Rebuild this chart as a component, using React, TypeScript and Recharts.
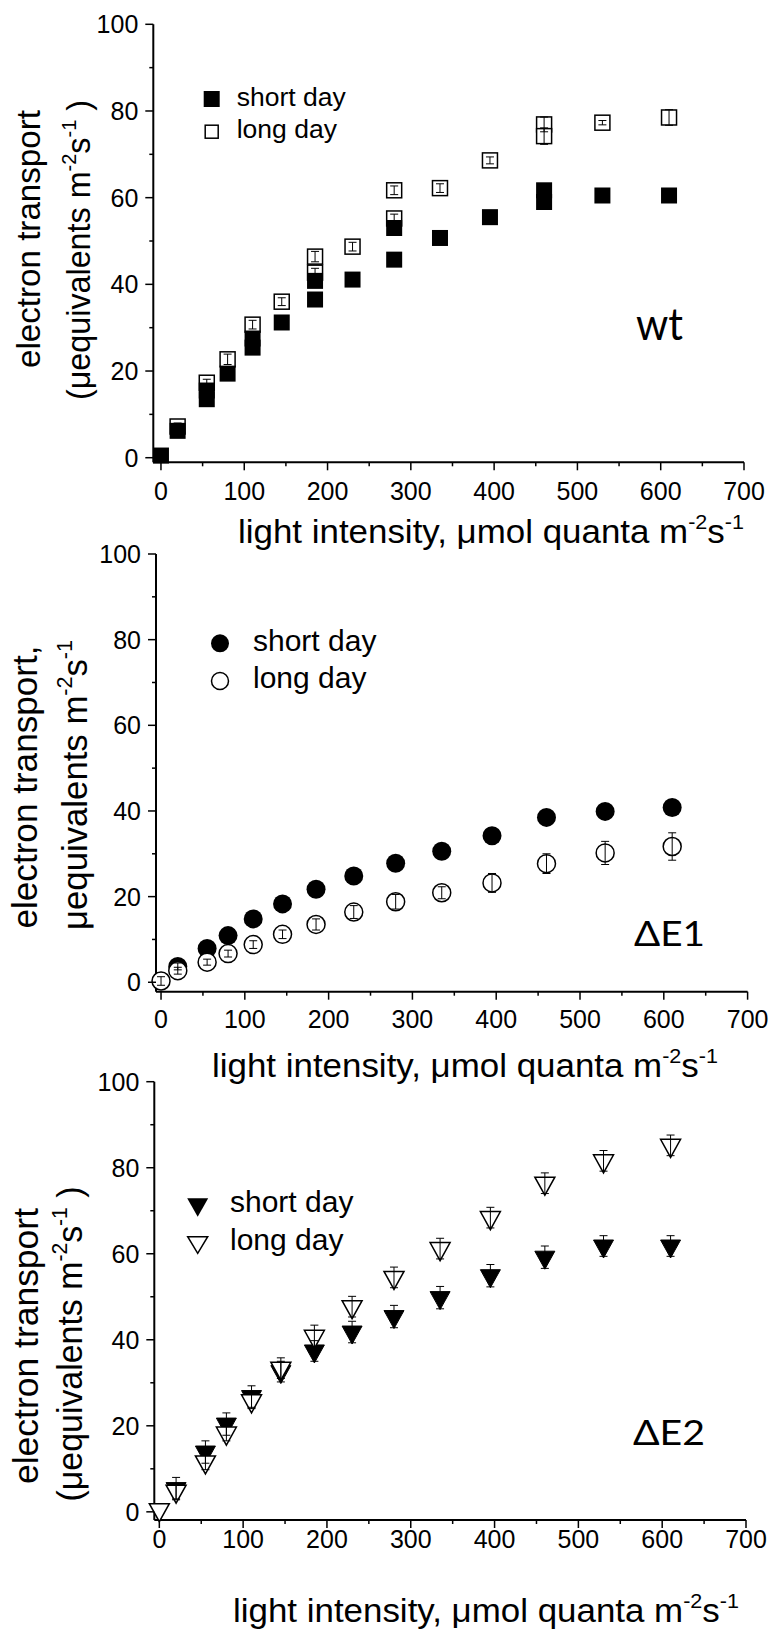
import React from "react";
import { ScatterChart, Scatter, XAxis, YAxis, ErrorBar } from "recharts";

// 軸の目盛り (ラベルは100/20ごと、間は補助目盛り)
const xTicks = [0, 50, 100, 150, 200, 250, 300, 350, 400, 450, 500, 550, 600, 650, 700];
const yTicks = [0, 10, 20, 30, 40, 50, 60, 70, 80, 90, 100];

// wt
const wtShortX = [0, 20, 55, 55, 80, 110, 110, 145, 185, 185, 230, 280, 280, 335, 395, 460, 460, 530, 610];
const wtShortY = [0.5, 6.2, 15.5, 13.5, 19.4, 27.5, 25.4, 31.2, 40.8, 36.5, 41.1, 53.0, 45.7, 50.7, 55.5, 61.7, 59.0, 60.5, 60.5];
const wtShortErr = [0, 1, 1, 1, 1, 1, 1, 1, 1, 1, 1, 1, 1, 1, 1, 1, 1, 1, 1];
const wtLongX = [20, 55, 80, 110, 145, 185, 185, 230, 280, 280, 335, 395, 460, 460, 530, 610];
const wtLongY = [7.2, 17.3, 22.7, 30.7, 36.0, 46.4, 42.7, 48.7, 61.7, 55.2, 62.2, 68.6, 76.9, 74.2, 77.3, 78.5];
const wtLongErr = [0.8, 0.8, 1.2, 1.0, 0.9, 1.2, 1.0, 1.0, 1.0, 1.0, 1.0, 0.8, 1.7, 1.9, 0.5, 1.8];

// ΔE1
const e1ShortX = [20, 55, 80, 110, 145, 185, 230, 280, 335, 395, 460, 530, 610];
const e1ShortY = [3.7, 7.9, 10.9, 14.8, 18.3, 21.7, 24.8, 27.8, 30.6, 34.2, 38.5, 39.9, 40.8];
const e1ShortErr = [0.8, 0.8, 0.8, 0.8, 0.8, 0.8, 0.8, 0.8, 0.8, 1.6, 1.6, 1.6, 1.5];
const e1LongX = [0, 20, 55, 80, 110, 145, 185, 230, 280, 335, 395, 460, 530, 610];
const e1LongY = [0.3, 2.7, 4.7, 6.7, 8.8, 11.2, 13.5, 16.4, 18.8, 20.9, 23.2, 27.7, 30.2, 31.7];
const e1LongErr = [1.0, 0.8, 0.7, 0.8, 0.9, 1.0, 1.3, 1.5, 1.7, 1.4, 2.2, 2.3, 2.7, 3.2];

// ΔE2
const e2ShortX = [20, 55, 80, 110, 145, 185, 230, 280, 335, 395, 460, 530, 610];
const e2ShortY = [5.4, 13.9, 20.4, 26.8, 32.6, 37.4, 41.8, 45.4, 49.8, 54.9, 59.2, 61.8, 61.8];
const e2ShortErr = [2.6, 2.6, 2.6, 2.5, 2.4, 2.4, 2.5, 2.6, 2.6, 2.6, 2.6, 2.4, 2.4];
const e2LongX = [0, 20, 55, 80, 110, 145, 185, 230, 280, 335, 395, 460, 530, 610];
const e2LongY = [0.5, 4.8, 11.6, 18.3, 25.8, 33.4, 40.8, 47.7, 54.5, 61.2, 68.4, 76.4, 81.6, 85.2];
const e2LongErr = [0, 1.8, 1.8, 1.8, 1.8, 2.4, 2.6, 2.4, 2.4, 2.4, 2.4, 2.4, 2.4, 2.4];

const SANS = "'Liberation Sans', Arial, sans-serif";
const TAG = "Lato, 'Open Sans', sans-serif";

type Pt = { x: number; y: number; e: number };
const pts = (xs: number[], ys: number[], es: number[]): Pt[] =>
  xs.map((x, i) => ({ x, y: ys[i], e: es[i] }));

// マーカー
const filledSquare = (p: any) =>
  p.cx == null ? <g /> : <rect x={p.cx - 8} y={p.cy - 8} width={16} height={16} fill="#000" />;
const openSquare = (p: any) =>
  p.cx == null ? <g /> : (
    <rect x={p.cx - 7.5} y={p.cy - 7.5} width={15} height={15} fill="#fff" stroke="#000" strokeWidth={1.5} />
  );
const filledCircle = (p: any) =>
  p.cx == null ? <g /> : <circle cx={p.cx} cy={p.cy} r={9.5} fill="#000" />;
const openCircle = (p: any) =>
  p.cx == null ? <g /> : <circle cx={p.cx} cy={p.cy} r={9} fill="#fff" stroke="#000" strokeWidth={1.5} />;
const triangle = (open: boolean) => (p: any) =>
  p.cx == null ? <g /> : (
    <polygon
      points={`${p.cx - 10},${p.cy - 6} ${p.cx + 10},${p.cy - 6} ${p.cx},${p.cy + 12}`}
      fill={open ? "#fff" : "#000"}
      stroke="#000"
      strokeWidth={open ? 1.5 : 1}
    />
  );
const nothing = () => <g />;

type Series = { data: Pt[]; shape: any };

type PanelProps = {
  top: number;
  height: number;
  margin: { top: number; right: number; bottom: number; left: number };
  xDomain: [number, number];
  yDomain: [number, number];
  xLabelDy: number;
  series: Series[];
};

function Panel({ top, height, margin, xDomain, yDomain, xLabelDy, series }: PanelProps) {
  const axisX = margin.left + 60;
  const axisY = height - margin.bottom - 30;

  const xTick = (p: any) => {
    const v = p.payload.value;
    const major = v % 100 === 0;
    return (
      <g>
        <line x1={p.x} x2={p.x} y1={axisY} y2={axisY + (major ? 8 : 4)} stroke="#000" strokeWidth={1.5} />
        {major && (
          <text x={p.x} y={axisY + xLabelDy} textAnchor="middle" fontSize={25} fontFamily={SANS} fill="#000">
            {v}
          </text>
        )}
      </g>
    );
  };

  const yTick = (p: any) => {
    const v = p.payload.value;
    const major = v % 20 === 0;
    return (
      <g>
        <line x1={axisX} x2={axisX - (major ? 8 : 4)} y1={p.y} y2={p.y} stroke="#000" strokeWidth={1.5} />
        {major && (
          <text x={axisX - 15} y={p.y + 9} textAnchor="end" fontSize={25} fontFamily={SANS} fill="#000">
            {v}
          </text>
        )}
      </g>
    );
  };

  // エラーバーはマーカーの上に重ねたいので同じスケールの透明チャートに描く
  const errMargin = {
    top: margin.top,
    right: margin.right,
    bottom: margin.bottom + 30,
    left: margin.left + 60,
  };

  return (
    <>
      <div style={{ position: "absolute", left: 0, top, width: 773, height }}>
        <ScatterChart width={773} height={height} margin={margin}>
          <XAxis
            type="number"
            dataKey="x"
            domain={xDomain}
            ticks={xTicks}
            interval={0}
            tickLine={false}
            tickSize={0}
            tickMargin={0}
            tick={xTick}
            height={30}
            axisLine={{ stroke: "#000", strokeWidth: 2 }}
          />
          <YAxis
            type="number"
            dataKey="y"
            domain={yDomain}
            ticks={yTicks}
            interval={0}
            tickLine={false}
            tickSize={0}
            tickMargin={0}
            tick={yTick}
            width={60}
            axisLine={{ stroke: "#000", strokeWidth: 2 }}
          />
          {series.map((s, i) => (
            <Scatter key={`m${i}`} data={s.data} shape={s.shape} isAnimationActive={false} />
          ))}
        </ScatterChart>
      </div>
      <div style={{ position: "absolute", left: 0, top, width: 773, height, pointerEvents: "none" }}>
        <ScatterChart width={773} height={height} margin={errMargin}>
          <XAxis type="number" dataKey="x" domain={xDomain} hide />
          <YAxis type="number" dataKey="y" domain={yDomain} hide />
          {series.map((s, i) => (
            <Scatter key={`e${i}`} data={s.data} shape={nothing} isAnimationActive={false}>
              <ErrorBar dataKey="e" direction="y" width={4} stroke="#000" strokeWidth={1} />
            </Scatter>
          ))}
        </ScatterChart>
      </div>
    </>
  );
}

// 軸タイトル・凡例・パネル名
function Overlay() {
  const xTitle = (x: number, y: number) => (
    <text x={x} y={y} fontSize={34} fontFamily={SANS} textLength={506} lengthAdjust="spacingAndGlyphs">
      light intensity, μmol quanta m
      <tspan dy={-14} fontSize={21}>-2</tspan>
      <tspan dy={14}>s</tspan>
      <tspan dy={-14} fontSize={21}>-1</tspan>
    </text>
  );
  const yLine = (x: number, y: number, size: number, len: number, body: React.ReactNode) => (
    <text
      transform={`translate(${x},${y}) rotate(-90)`}
      textAnchor="middle"
      fontSize={size}
      fontFamily={SANS}
      textLength={len}
      lengthAdjust="spacingAndGlyphs"
    >
      {body}
    </text>
  );
  const units = (paren: boolean, size: number) => (
    <>
      {paren ? "(" : ""}μequivalents m
      <tspan dy={-size * 0.42} fontSize={size * 0.62}>-2</tspan>
      <tspan dy={size * 0.42}>s</tspan>
      <tspan dy={-size * 0.42} fontSize={size * 0.62}>-1</tspan>
      <tspan dy={size * 0.42}>{paren ? " )" : ""}</tspan>
    </>
  );

  return (
    <svg
      width={773}
      height={1636}
      style={{ position: "absolute", left: 0, top: 0, pointerEvents: "none" }}
    >
      {/* wt */}
      {yLine(40, 239, 33, 258, "electron transport")}
      {yLine(90, 250, 33, 300, units(true, 33))}
      {xTitle(238, 543)}
      <rect x={203.7} y={91} width={16} height={16} fill="#000" />
      <rect x={205.2} y={125.2} width={13} height={13} fill="#fff" stroke="#000" strokeWidth={1.5} />
      <text x={236.7} y={106} fontSize={26.5} fontFamily={SANS}>short day</text>
      <text x={236.7} y={138} fontSize={26.5} fontFamily={SANS}>long day</text>
      <text x={636} y={340} fontSize={44} fontFamily={TAG} textLength={47} lengthAdjust="spacingAndGlyphs">wt</text>

      {/* ΔE1 */}
      {yLine(37, 787, 35, 283, "electron transport,")}
      {yLine(87, 785, 35, 290, units(false, 35))}
      {xTitle(212, 1077)}
      <circle cx={220} cy={643.3} r={9} fill="#000" />
      <circle cx={220} cy={681} r={8.5} fill="#fff" stroke="#000" strokeWidth={1.5} />
      <text x={253} y={651} fontSize={30} fontFamily={SANS}>short day</text>
      <text x={253} y={688} fontSize={30} fontFamily={SANS}>long day</text>
      <text x={634} y={946} fontSize={35} fontFamily={TAG} textLength={71} lengthAdjust="spacingAndGlyphs">ΔE1</text>

      {/* ΔE2 */}
      {yLine(38, 1346, 35, 276, "electron transport")}
      {yLine(82, 1344, 35, 315, units(true, 35))}
      {xTitle(233, 1622)}
      <polygon points="187.2,1198.3 208.2,1198.3 197.7,1216.7" fill="#000" />
      <polygon points="187.7,1236.7 207.7,1236.7 197.7,1253.3" fill="#fff" stroke="#000" strokeWidth={1.5} />
      <text x={230} y={1211.7} fontSize={30} fontFamily={SANS}>short day</text>
      <text x={230} y={1250} fontSize={30} fontFamily={SANS}>long day</text>
      <text x={633} y={1445} fontSize={35} fontFamily={TAG} textLength={72} lengthAdjust="spacingAndGlyphs">ΔE2</text>
    </svg>
  );
}

export default function App() {
  return (
    <div style={{ position: "absolute", left: 0, top: 0, width: 773, height: 1636, background: "#fff" }}>
      <Panel
        top={0}
        height={530}
        margin={{ top: 24.3, right: 29, bottom: 37.7, left: 93.3 }}
        xDomain={[-9.2, 700]}
        yDomain={[-1.06, 100]}
        xLabelDy={37.7}
        series={[
          { data: pts(wtLongX, wtLongY, wtLongErr), shape: openSquare },
          { data: pts(wtShortX, wtShortY, wtShortErr), shape: filledSquare },
        ]}
      />
      <Panel
        top={530}
        height={540}
        margin={{ top: 24, right: 25.4, bottom: 48.3, left: 96 }}
        xDomain={[-6, 700]}
        yDomain={[-2.2, 100]}
        xLabelDy={36.6}
        series={[
          { data: pts(e1ShortX, e1ShortY, e1ShortErr), shape: filledCircle },
          { data: pts(e1LongX, e1LongY, e1LongErr), shape: openCircle },
        ]}
      />
      <Panel
        top={1070}
        height={566}
        margin={{ top: 11.7, right: 27, bottom: 86, left: 94.3 }}
        xDomain={[-6, 700]}
        yDomain={[-1.9, 100]}
        xLabelDy={28}
        series={[
          { data: pts(e2ShortX, e2ShortY, e2ShortErr), shape: triangle(false) },
          { data: pts(e2LongX, e2LongY, e2LongErr), shape: triangle(true) },
        ]}
      />
      <Overlay />
    </div>
  );
}
